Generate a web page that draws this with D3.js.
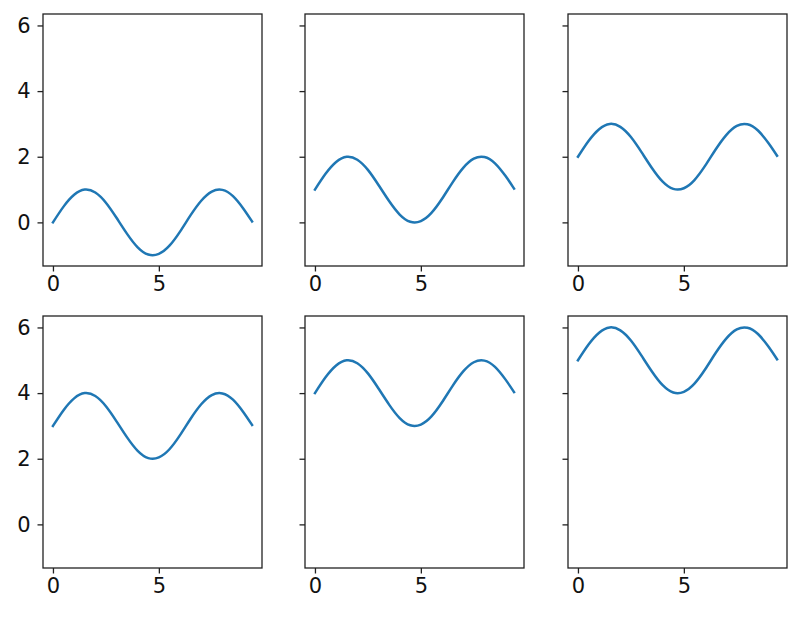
<!DOCTYPE html>
<html><head><meta charset="utf-8">
<script src="https://cdn.jsdelivr.net/npm/d3@7"></script>
<style>body{margin:0;background:#fff}svg{display:block}</style>
</head><body>
<script>
const xValues = [0, 0.5, 1, 1.5, 2, 2.5, 3, 3.5, 4, 4.5, 5, 5.5, 6, 6.5, 7, 7.5, 8, 8.5, 9, 9.4];
const series0 = [0.00, 0.48, 0.84, 1.00, 0.91, 0.60, 0.14, -0.35, -0.76, -0.98, -0.96, -0.71, -0.28, 0.22, 0.66, 0.94, 0.99, 0.80, 0.41, 0.03];
const series1 = [1.00, 1.48, 1.84, 2.00, 1.91, 1.60, 1.14, 0.65, 0.24, 0.02, 0.04, 0.29, 0.72, 1.22, 1.66, 1.94, 1.99, 1.80, 1.41, 1.03];
const series2 = [2.00, 2.48, 2.84, 3.00, 2.91, 2.60, 2.14, 1.65, 1.24, 1.02, 1.04, 1.29, 1.72, 2.22, 2.66, 2.94, 2.99, 2.80, 2.41, 2.03];
const series3 = [3.00, 3.48, 3.84, 4.00, 3.91, 3.60, 3.14, 2.65, 2.24, 2.02, 2.04, 2.29, 2.72, 3.22, 3.66, 3.94, 3.99, 3.80, 3.41, 3.03];
const series4 = [4.00, 4.48, 4.84, 5.00, 4.91, 4.60, 4.14, 3.65, 3.24, 3.02, 3.04, 3.29, 3.72, 4.22, 4.66, 4.94, 4.99, 4.80, 4.41, 4.03];
const series5 = [5.00, 5.48, 5.84, 6.00, 5.91, 5.60, 5.14, 4.65, 4.24, 4.02, 4.04, 4.29, 4.72, 5.22, 5.66, 5.94, 5.99, 5.80, 5.41, 5.03];
const xTicks = [0, 5];
const yTicks = [0, 2, 4, 6];

const allSeries = [series0, series1, series2, series3, series4, series5];
const W = 801, H = 618;
const lefts = [43, 305, 568], tops = [14, 316];
const pw = 219, ph = 252;

const svg = d3.select("body").append("svg").attr("width", W).attr("height", H);

const xmin = d3.min(xValues), xmax = d3.max(xValues);
const xpad = (xmax - xmin) * 0.05;
const ymin = d3.min(allSeries, s => d3.min(s)), ymax = d3.max(allSeries, s => d3.max(s));
const ypad = (ymax - ymin) * 0.05;

const x = d3.scaleLinear().domain([xmin - xpad, xmax + xpad]).range([0, pw]);
const y = d3.scaleLinear().domain([ymin - ypad, ymax + ypad]).range([ph, 0]);

const line = d3.line().x((d, i) => x(xValues[i])).y(d => y(d)).curve(d3.curveNatural);

allSeries.forEach((s, i) => {
  const r = Math.floor(i / 3), c = i % 3;
  const g = svg.append("g").attr("transform", `translate(${lefts[c]},${tops[r]})`);
  g.append("path").datum(s).attr("d", line).attr("fill", "none")
    .attr("stroke", "#1f77b4").attr("stroke-width", 2.5).attr("stroke-linecap", "square");

  const xa = g.append("g").attr("transform", `translate(0,${ph})`)
    .call(d3.axisBottom(x).tickValues(xTicks).tickSize(5.5).tickPadding(5).tickFormat(d3.format("d")));
  const ya = g.append("g")
    .call(d3.axisLeft(y).tickValues(yTicks).tickSize(5.5).tickPadding(7).tickFormat(c === 0 ? d3.format("d") : () => ""));
  [xa, ya].forEach(a => {
    a.attr("font-size", 21).attr("font-family", "DejaVu Sans");
    a.select(".domain").remove();
    a.selectAll(".tick line").attr("stroke", "#222").attr("stroke-width", 1.3);
    a.selectAll(".tick text").attr("fill", "#111").attr("font-size", 21).attr("font-family", "DejaVu Sans");
  });
  g.append("rect").attr("x", 0).attr("y", 0).attr("width", pw).attr("height", ph)
    .attr("fill", "none").attr("stroke", "#222").attr("stroke-width", 1.3);
});
</script>
</body></html>
